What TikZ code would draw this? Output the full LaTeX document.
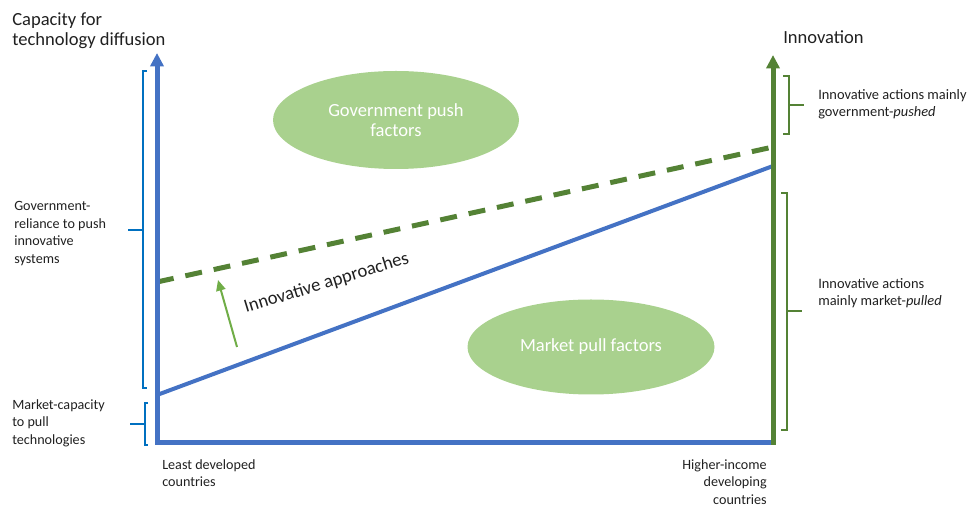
\documentclass[tikz,border=0pt]{standalone}
\usepackage{fontspec}
\setmainfont{Carlito}
\usetikzlibrary{arrows.meta,shapes.geometric}

\definecolor{axisblue}{RGB}{68,114,196}
\definecolor{axisgreen}{RGB}{84,130,53}
\definecolor{blobgreen}{RGB}{169,209,142}
\definecolor{liftgreen}{RGB}{112,173,71}
\definecolor{braceblue}{RGB}{0,112,192}
\definecolor{textgray}{RGB}{32,32,32}

\tikzset{axistip/.tip={Triangle[width=9.75pt,length=10pt]}}

\begin{document}
\begin{tikzpicture}[x=0.75pt,y=0.75pt,yscale=-1,xscale=1,
    axis/.style={line width=3.75pt, line join=miter},
    brace/.style={line width=1.1pt},
    lbl/.style={anchor=north west, inner sep=0.75pt, align=left, text=textgray, font=\fontsize{10.6}{13.2}\selectfont},
    blob/.style={ellipse, fill=blobgreen, text=white, align=center, inner sep=0pt, font=\fontsize{13.9}{15.5}\selectfont}]
    \useasboundingbox (0,0) rectangle (972,509);

    % corner points of the two axes
    \coordinate (O) at (157,443);
    \coordinate (ytop) at (157,53);
    \coordinate (xend) at (773,443);
    \coordinate (ibot) at (773,445);
    \coordinate (itop) at (773,55);
    % ends of the two trend lines
    \coordinate (capL) at (157,395);
    \coordinate (capR) at (773,166);
    \coordinate (innL) at (157,282);
    \coordinate (innR) at (773,147);
    \coordinate (liftS) at (237,347);
    \coordinate (liftE) at (218,280);

    %Ellipses
    \node[blob, minimum width=246pt*0.75, minimum height=98pt*0.75] (push) at (396,120) {Government push\\factors};
    \node[blob, minimum width=247pt*0.75, minimum height=95pt*0.75] (pull) at (591,347) {Market pull factors};

    %Straight Lines: trend lines
    \draw [axisgreen, line width=3.75pt, dash pattern=on 12.75pt off 9pt] (innL) -- (innR);
    \draw [axisblue, line width=3pt] (capL) -- (capR);
    \draw [liftgreen, line width=1.5pt, -{Triangle[width=7pt,length=8pt]}] (liftS) -- (liftE);

    %Axes
    \draw [axis, axisblue, axistip-] (ytop) -- (O) -- (xend);
    \draw [axis, axisgreen, -axistip] (ibot) -- (itop);

    %Shape: left braces
    \draw [brace, braceblue] (147,71) -- (143,71) -- (143,388) -- (147,388) (143,230) -- (128,230);
    \draw [brace, braceblue] (148,403) -- (145,403) -- (145,445) -- (148,445) (145,424) -- (130,424);
    %Shape: right braces
    \draw [brace, axisgreen] (783,76) -- (789,76) -- (789,134) -- (783,134) (789,105) -- (804,105);
    \draw [brace, axisgreen] (781,193) -- (787,193) -- (787,430) -- (781,430) (787,311) -- (802,311);

    % Text Node
    \node [lbl, font=\fontsize{13.9}{15.5}\selectfont] (ytitle) at (11,11) {Capacity for\\technology diffusion};
    % Text Node
    \node [lbl, font=\fontsize{13.9}{15.5}\selectfont] (ititle) at (782,29) {Innovation};
    % Text Node
    \node [lbl] (govrel) at (13,200) {Government-\\reliance to push\\innovative\\systems};
    % Text Node
    \node [lbl] (mktcap) at (11,398) {Market-capacity\\to pull\\technologies};
    % Text Node
    \node [lbl, font=\fontsize{10.8}{12.7}\selectfont] (pushed) at (817,88) {Innovative actions mainly\\government-\textit{pushed}};
    % Text Node
    \node [lbl, font=\fontsize{10.8}{12.7}\selectfont] (pulled) at (817,277) {Innovative actions\\mainly market-\textit{pulled}};
    % Text Node
    \node [lbl] (ldc) at (161,458) {Least developed\\countries};
    % Text Node
    \node [lbl, anchor=north east, align=right] (hidc) at (768,458) {Higher-income\\developing\\countries};
    % Text Node
    \node [text=textgray, rotate=17, anchor=base, inner sep=0pt, font=\fontsize{14}{16}\selectfont] (approach) at (328,288) {Innovative approaches};

\end{tikzpicture}
\end{document}
